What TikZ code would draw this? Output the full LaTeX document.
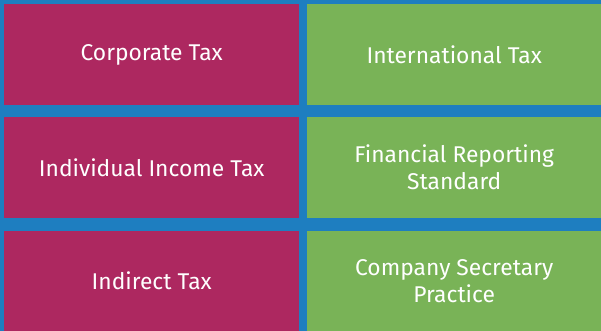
\documentclass[tikz,border=0pt]{standalone}
\usepackage{fontspec}
\setmainfont{Fira Sans}
\definecolor{bgblue}{HTML}{1E7EC0}
\definecolor{cellred}{HTML}{AD2860}
\definecolor{cellgreen}{HTML}{79B357}
\tikzset{
  cell/.style={minimum width=295pt, minimum height=101pt, inner sep=0pt, text=white,
    font=\fontsize{22.8}{27}\selectfont, align=center, anchor=north west},
  redcell/.style={cell, fill=cellred},
  greencell/.style={cell, fill=cellgreen},
}
\begin{document}
\begin{tikzpicture}[x=1pt,y=-1pt]
\fill[bgblue] (0,0) rectangle (601,331);
\useasboundingbox (0,0) rectangle (601,331);
\node[redcell] (ct) at (4,4) {Corporate Tax};
\node[greencell, minimum width=294pt] (it) at (307,4) {International Tax};
\node[redcell] (iit) at (4,117) {Individual Income Tax};
\node[greencell, minimum width=294pt] (frs) at (307,117) {Financial Reporting\\Standard};
\node[redcell, minimum height=100pt] (idt) at (4,231) {Indirect Tax};
\node[greencell, minimum width=294pt, minimum height=100pt] (csp) at (307,231) {Company Secretary\\Practice};
\end{tikzpicture}
\end{document}
